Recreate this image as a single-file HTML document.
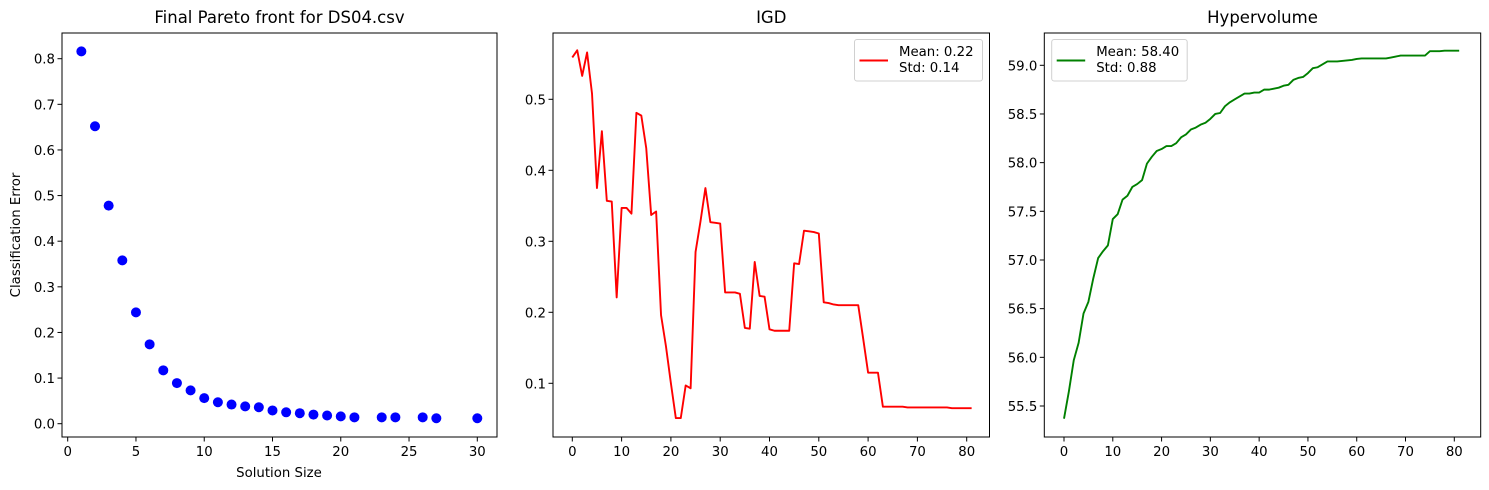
<!DOCTYPE html>
<html><head><meta charset="utf-8">
<style>
html,body{margin:0;padding:0;background:#fff;}
svg{display:block;font-family:"DejaVu Sans","Liberation Sans",sans-serif;}
</style></head>
<body>
<svg id="chart" width="1489" height="490" viewBox="0 0 1489 490" xmlns="http://www.w3.org/2000/svg"></svg>
<script>
const paretoSizes=[1,2,3,4,5,6,7,8,9,10,11,12,13,14,15,16,17,18,19,20,21,23,24,26,27,30];
const paretoErrors=[0.816,0.652,0.478,0.358,0.244,0.174,0.117,0.089,0.073,0.056,0.047,0.042,0.038,0.036,0.029,0.025,0.023,0.020,0.018,0.016,0.014,0.014,0.014,0.014,0.012,0.012];
const igdValues=[0.559,0.569,0.533,0.566,0.508,0.375,0.455,0.357,0.356,0.221,0.347,0.347,0.339,0.481,0.477,0.431,0.337,0.342,0.196,0.152,0.100,0.051,0.051,0.097,0.093,0.285,0.328,0.375,0.327,0.326,0.325,0.228,0.228,0.228,0.226,0.178,0.177,0.271,0.223,0.222,0.176,0.174,0.174,0.174,0.174,0.269,0.268,0.315,0.314,0.313,0.311,0.214,0.213,0.211,0.210,0.210,0.210,0.210,0.210,0.163,0.115,0.115,0.115,0.067,0.067,0.067,0.067,0.067,0.066,0.066,0.066,0.066,0.066,0.066,0.066,0.066,0.066,0.065,0.065,0.065,0.065,0.065];
const hvValues=[55.37,55.65,55.97,56.15,56.45,56.57,56.81,57.02,57.09,57.15,57.42,57.47,57.62,57.66,57.75,57.78,57.82,57.99,58.06,58.12,58.14,58.17,58.17,58.20,58.26,58.29,58.34,58.36,58.39,58.41,58.45,58.50,58.51,58.58,58.62,58.65,58.68,58.71,58.71,58.72,58.72,58.75,58.75,58.76,58.77,58.79,58.80,58.85,58.87,58.88,58.92,58.97,58.98,59.01,59.04,59.04,59.04,59.045,59.05,59.055,59.065,59.07,59.07,59.07,59.07,59.07,59.07,59.08,59.09,59.10,59.10,59.10,59.10,59.10,59.10,59.145,59.145,59.145,59.15,59.15,59.15,59.15];
const p1XTicks=[0,5,10,15,20,25,30];
const p1YTicks=[0.0,0.1,0.2,0.3,0.4,0.5,0.6,0.7,0.8];
const p2XTicks=[0,10,20,30,40,50,60,70,80];
const p2YTicks=[0.1,0.2,0.3,0.4,0.5];
const p3XTicks=[0,10,20,30,40,50,60,70,80];
const p3YTicks=[55.5,56.0,56.5,57.0,57.5,58.0,58.5,59.0];

const svg=document.getElementById('chart');
const NS='http://www.w3.org/2000/svg';
function mk(tag,attrs,parent){const e=document.createElementNS(NS,tag);for(const k in attrs)e.setAttribute(k,attrs[k]);(parent||svg).appendChild(e);return e;}
function lin(d0,d1,r0,r1){return v=>r0+(v-d0)*(r1-r0)/(d1-d0);}

function axes(name,box,xs,ys,xt,yt,yfmt,title){
  const g=mk('g',{});
  
  
  const t=mk('text',{x:(box.l+box.r)/2,y:23,'text-anchor':'middle','font-size':'16.5',fill:'#000'},g);
  
  
  t.textContent=title;
  xt.forEach(v=>{const x=xs(v);
    mk('line',{x1:x,x2:x,y1:box.b,y2:box.b+4.5,stroke:'#000','stroke-width':1},g);
    const tx=mk('text',{x:x,y:box.b+19,'text-anchor':'middle','font-size':'13.3',fill:'#000'},g);
    
    
    tx.textContent=v;});
  yt.forEach(v=>{const y=ys(v);
    mk('line',{x1:box.l-4.5,x2:box.l,y1:y,y2:y,stroke:'#000','stroke-width':1},g);
    const ty=mk('text',{x:box.l-7,y:y+5,'text-anchor':'end','font-size':'13.3',fill:'#000'},g);
    
    
    ty.textContent=yfmt(v);});
  return g;
}
function frame(box,g){mk('rect',{x:box.l,y:box.t,width:box.r-box.l,height:box.b-box.t,fill:'none',stroke:'#000','stroke-width':1},g);}

// Panel 1
const b1={l:62,r:497,t:33,b:437};
const x1=lin(0,30,67.7,477.3), y1=lin(0,0.8,423.7,58.7);
const g1=axes('pareto-front-panel',b1,x1,y1,p1XTicks,p1YTicks,v=>v.toFixed(1),'Final Pareto front for DS04.csv');
paretoSizes.forEach((s,i)=>{const c=mk('circle',{cx:x1(s),cy:y1(paretoErrors[i]),r:5,fill:'#0000ff'},g1);
  
  });
frame(b1,g1);
const xl=mk('text',{x:279,y:477,'text-anchor':'middle','font-size':'13.3',fill:'#000'},g1);


xl.textContent='Solution Size';
const yl=mk('text',{x:0,y:0,'text-anchor':'middle','font-size':'13.3',fill:'#000',transform:'translate(20,235) rotate(-90)'},g1);


yl.textContent='Classification Error';

// Panel 2
const b2={l:553,r:989.5,t:33,b:437};
const x2=lin(0,80,572.3,966.7), y2=lin(0.1,0.5,383.3,99.3);
const g2=axes('igd-panel',b2,x2,y2,p2XTicks,p2YTicks,v=>v.toFixed(1),'IGD');
const l2=mk('polyline',{points:igdValues.map((v,i)=>x2(i)+','+y2(v)).join(' '),fill:'none',stroke:'#ff0000','stroke-width':1.9,'stroke-linejoin':'round'},g2);


frame(b2,g2);
function legend(g,name,x0,w,color,l1,l2t){
  const lg=mk('g',{},g);
  
  
  mk('rect',{x:x0,y:39.5,width:w,height:41.5,rx:2.5,fill:'#fff','fill-opacity':0.8,stroke:'#d0d0d0','stroke-width':1},lg);
  mk('line',{x1:x0+5,x2:x0+33.5,y1:60.5,y2:60.5,stroke:color,'stroke-width':1.9},lg);
  const a=mk('text',{x:x0+44.5,y:56,'font-size':'13.3',fill:'#000'},lg);a.textContent=l1;
  const b=mk('text',{x:x0+44.5,y:72,'font-size':'13.3',fill:'#000'},lg);b.textContent=l2t;
}
legend(g2,'igd-legend',854.5,128,'#ff0000','Mean: 0.22','Std: 0.14');

// Panel 3
const b3={l:1044.3,r:1480.7,t:33,b:437};
const x3=lin(0,80,1064,1454.3), y3=lin(55.5,59.0,406,65.3);
const g3=axes('hypervolume-panel',b3,x3,y3,p3XTicks,p3YTicks,v=>v.toFixed(1),'Hypervolume');
const l3=mk('polyline',{points:hvValues.map((v,i)=>x3(i)+','+y3(v)).join(' '),fill:'none',stroke:'#008000','stroke-width':1.9,'stroke-linejoin':'round'},g3);


frame(b3,g3);
legend(g3,'hypervolume-legend',1051.7,135.5,'#008000','Mean: 58.40','Std: 0.88');
</script>
</body></html>
